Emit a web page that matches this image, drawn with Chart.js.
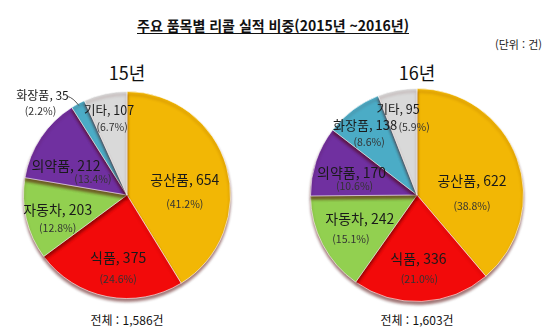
<!DOCTYPE html>
<html lang="ko">
<head>
<meta charset="utf-8">
<script src="https://cdn.jsdelivr.net/npm/chart.js@4/dist/chart.umd.min.js"></script>
<style>
  html, body { margin: 0; padding: 0; background: #fff; }
  body { width: 554px; height: 334px; position: relative; overflow: hidden;
         font-family: "Noto Sans CJK KR", "Noto Sans", sans-serif; color: #111; }
  .title { position: absolute; left: 0; width: 546px; top: 15px; text-align: center;
           font-size: 14px; font-weight: bold; text-decoration: underline; text-underline-offset: 2px; }
  .unit { position: absolute; right: 12px; top: 36px; font-size: 11px; color: #222; }
  .year { position: absolute; width: 120px; text-align: center; top: 59px; font-size: 18px; }
  .total { position: absolute; width: 160px; text-align: center; top: 311px; font-size: 12px; }
  canvas { position: absolute; top: 0; }
</style>
</head>
<body>
<div class="title">주요 품목별 리콜 실적 비중(2015년 ~2016년)</div>
<div class="unit">(단위 : 건)</div>
<div class="year" style="left:67px">15년</div>
<div class="year" style="left:357px">16년</div>
<div class="total" id="total-15" style="left:47px"></div>
<div class="total" id="total-16" style="left:337px"></div>
<div style="position:absolute;left:0;top:0;width:277px;height:334px"><canvas id="chart-15"></canvas></div>
<div style="position:absolute;left:277px;top:0;width:277px;height:334px"><canvas id="chart-16"></canvas></div>
<script>
  const categories = ['공산품', '식품', '자동차', '의약품', '화장품', '기타'];
  const values2015 = [654, 375, 203, 212, 35, 107];
  const values2016 = [622, 336, 242, 170, 138, 95];
  const percent2015 = ['41.2', '24.6', '12.8', '13.4', '2.2', '6.7'];
  const percent2016 = ['38.8', '21.0', '15.1', '10.6', '8.6', '5.9'];
  const colors = ['#F2B705', '#F20A0A', '#92D050', '#7030A0', '#4BACC6', '#D9D9D9'];

  // label offsets from each slice's centre point: [nameDx, nameDy, pctDx, pctDy]
  const labelOffsets2015 = [[8, -1, 8, 23], [1, 12, 1, 33], [-19, 3, -19, 21],
                            [-18, -1, 9, 13], [-60, -54, -62, -38], [-7, -34, -4, -17]];
  const labelOffsets2016 = [[5, 4, 5, 29], [-1, 10, 0, 31], [-10, -1, -19, 19],
                            [-15, -5, -12, 8], [-20, -27, -16, -10], [-9, -33, 7, -16]];
  const nameSizes2015 = [14, 14, 14, 14, 12, 12.5];
  const nameSizes2016 = [14, 14, 14, 14, 13, 12.5];

  function formatNumber(n) {
    return n.toLocaleString('en-US');
  }

  const sliceLabels = {
    id: 'sliceLabels',
    afterDatasetsDraw(chart, args, opts) {
      const ctx = chart.ctx;
      const meta = chart.getDatasetMeta(0);
      const values = chart.data.datasets[0].data;
      ctx.save();
      ctx.textAlign = 'center';
      ctx.textBaseline = 'middle';
      meta.data.forEach((arc, i) => {
        const p = arc.tooltipPosition();
        const off = opts.offsets[i];
        ctx.fillStyle = '#1a1a1a';
        ctx.font = `${opts.sizes[i]}px "Noto Sans CJK KR", sans-serif`;
        ctx.fillText(`${chart.data.labels[i]}, ${values[i]}`, p.x + off[0], p.y + off[1]);
        ctx.fillStyle = '#333';
        ctx.font = '10.5px "Noto Sans CJK KR", sans-serif';
        ctx.fillText(`(${opts.percents[i]}%)`, p.x + off[2], p.y + off[3]);
        if (opts.leader === i) {
          const mid = (arc.startAngle + arc.endAngle) / 2;
          const ex = arc.x + Math.cos(mid) * (arc.outerRadius - 2);
          const ey = arc.y + Math.sin(mid) * (arc.outerRadius - 2);
          ctx.strokeStyle = '#555';
          ctx.lineWidth = 1;
          ctx.beginPath();
          ctx.moveTo(p.x + off[0] + 25, p.y + off[1] + 1);
          ctx.quadraticCurveTo(ex - 6, ey - 8, ex, ey);
          ctx.stroke();
        }
      });
      ctx.restore();
    }
  };

  const pieShadow = {
    id: 'pieShadow',
    beforeDatasetsDraw(chart) {
      const ctx = chart.ctx;
      ctx.save();
      ctx.shadowColor = 'rgba(80, 0, 0, 0.55)';
      ctx.shadowBlur = 3;
      ctx.shadowOffsetY = 3;
    },
    afterDatasetsDraw(chart) {
      chart.ctx.restore();
    }
  };

  function renderPie(canvasId, values, percents, offsets, sizes, padding, leader) {
    return new Chart(document.getElementById(canvasId), {
      type: 'pie',
      data: {
        labels: categories,
        datasets: [{
          data: values,
          backgroundColor: colors,
          borderColor: 'rgba(255,255,255,0.6)',
          borderWidth: 1
        }]
      },
      options: {
        responsive: true,
        maintainAspectRatio: false,
        animation: false,
        layout: { padding },
        plugins: {
          legend: { display: false },
          tooltip: { enabled: false },
          sliceLabels: { offsets, percents, sizes, leader }
        }
      },
      plugins: [pieShadow, sliceLabels]
    });
  }

  const sum = (arr) => arr.reduce((a, b) => a + b, 0);
  document.getElementById('total-15').textContent = `전체 : ${formatNumber(sum(values2015))}건`;
  document.getElementById('total-16').textContent = `전체 : ${formatNumber(sum(values2016))}건`;

  renderPie('chart-15', values2015, percent2015, labelOffsets2015, nameSizes2015,
    { left: 23, right: 46, top: 91, bottom: 35 }, 4);
  renderPie('chart-16', values2016, percent2016, labelOffsets2016, nameSizes2016,
    { left: 33, right: 30, top: 88, bottom: 32 }, -1);
</script>
</body>
</html>
